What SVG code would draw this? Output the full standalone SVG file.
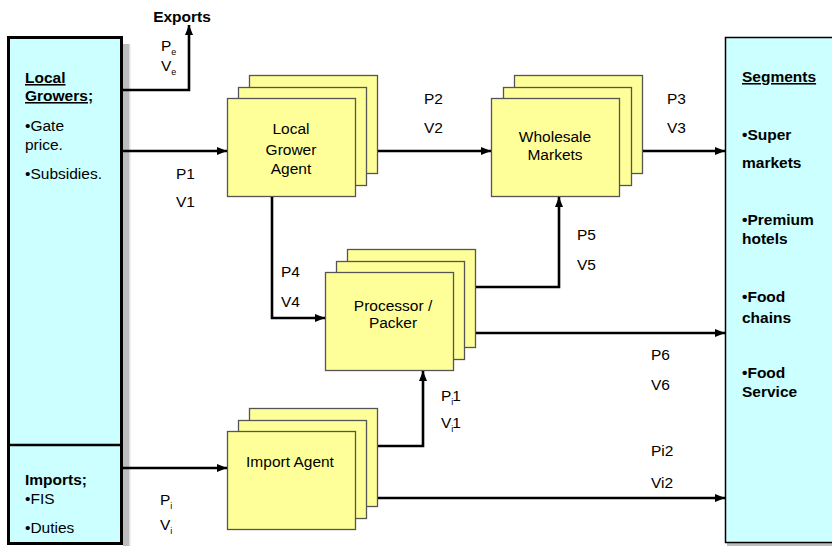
<svg xmlns="http://www.w3.org/2000/svg" width="832" height="546" viewBox="0 0 832 546">
<defs>
<style>
text{font-family:"Liberation Sans",Arial,sans-serif;font-size:15.5px;fill:#000}
.b{font-weight:bold}
.u{text-decoration:underline}
.c{text-anchor:middle}
.box{fill:#FFFF99;stroke:#555;stroke-width:1.3}
.panel{fill:#CCFFFF;stroke:#000}
.conn{fill:none;stroke:#000;stroke-width:2.6}
.sub{font-size:9px}
</style>
<marker id="ah" markerUnits="userSpaceOnUse" markerWidth="10" markerHeight="8" refX="10" refY="4" orient="auto">
<path d="M0,0 L10,4 L0,8 z" fill="#000"/>
</marker>
</defs>
<rect width="832" height="546" fill="#fff"/>

<g id="local-growers">
<rect x="123" y="44" width="6" height="502" fill="#bdbdbd"/>
<rect x="129" y="44" width="1.5" height="502" fill="#e0e0e0"/>
<rect class="panel" x="8.5" y="37.5" width="113" height="506" stroke-width="3"/>
<line x1="8" y1="445" x2="122" y2="445" stroke="#000" stroke-width="2.5"/>
<text class="b u" x="25" y="83">Local</text>
<text class="b u" x="25" y="101">Growers;</text>
<text x="25" y="131">•Gate</text>
<text x="25" y="150">price.</text>
<text x="25" y="179">•Subsidies.</text>
</g>

<g id="imports">
<text class="b" x="25" y="485">Imports;</text>
<text x="25" y="504">•FIS</text>
<text x="25" y="533">•Duties</text>
</g>

<g id="exports">
<text class="b c" x="182" y="22">Exports</text>
</g>

<g id="segments">
<rect x="727" y="543" width="110" height="3" fill="#bdbdbd"/>
<rect class="panel" x="725.5" y="37.5" width="120" height="505" stroke-width="1.5"/>
<text class="b u" x="742" y="82">Segments</text>
<text class="b" x="742" y="140">•Super</text>
<text class="b" x="742" y="168">markets</text>
<text class="b" x="742" y="225">•Premium</text>
<text class="b" x="742" y="244">hotels</text>
<text class="b" x="742" y="302">•Food</text>
<text class="b" x="742" y="323">chains</text>
<text class="b" x="742" y="378">•Food</text>
<text class="b" x="742" y="397">Service</text>
</g>

<g id="local-grower-agent">
<rect class="box" x="249.5" y="75.5" width="128" height="98"/>
<rect class="box" x="238.5" y="87.5" width="128" height="98"/>
<rect class="box" x="227.5" y="98.5" width="128" height="98"/>
<text class="c" x="291" y="134">Local</text>
<text class="c" x="291" y="155">Grower</text>
<text class="c" x="291" y="174">Agent</text>
</g>

<g id="wholesale-markets">
<rect class="box" x="514.5" y="75.5" width="128" height="98"/>
<rect class="box" x="503.5" y="87.5" width="128" height="98"/>
<rect class="box" x="491.5" y="98.5" width="128" height="98"/>
<text class="c" x="555" y="142">Wholesale</text>
<text class="c" x="555" y="160">Markets</text>
</g>

<g id="processor-packer">
<rect class="box" x="347.5" y="249.5" width="128" height="98"/>
<rect class="box" x="336.5" y="261.5" width="128" height="98"/>
<rect class="box" x="325.5" y="272.5" width="128" height="98"/>
<text class="c" x="393" y="311">Processor /</text>
<text class="c" x="393" y="328">Packer</text>
</g>

<g id="import-agent">
<rect class="box" x="249.5" y="408.5" width="128" height="98"/>
<rect class="box" x="238.5" y="420.5" width="128" height="98"/>
<rect class="box" x="227.5" y="431.5" width="128" height="98"/>
<text class="c" x="290" y="467">Import Agent</text>
</g>

<g id="connectors">
<path class="conn" d="M122,90 H189 V25" marker-end="url(#ah)"/>
<path class="conn" d="M122,151 H227" marker-end="url(#ah)"/>
<path class="conn" d="M378,151 H491" marker-end="url(#ah)"/>
<path class="conn" d="M643,151 H725" marker-end="url(#ah)"/>
<path class="conn" d="M272,197 V318 H325" marker-end="url(#ah)"/>
<path class="conn" d="M476,287 H559 V197" marker-end="url(#ah)"/>
<path class="conn" d="M476,333 H725" marker-end="url(#ah)"/>
<path class="conn" d="M378,446 H423 V371" marker-end="url(#ah)"/>
<path class="conn" d="M378,498 H725" marker-end="url(#ah)"/>
<path class="conn" d="M122,468 H227" marker-end="url(#ah)"/>

<text x="161" y="51">P<tspan class="sub" dy="4">e</tspan></text>
<text x="161" y="71">V<tspan class="sub" dy="4">e</tspan></text>
<text x="176" y="179">P1</text>
<text x="176" y="207">V1</text>
<text x="424" y="104">P2</text>
<text x="424" y="133">V2</text>
<text x="667" y="104">P3</text>
<text x="667" y="133">V3</text>
<text x="281" y="277">P4</text>
<text x="281" y="307">V4</text>
<text x="577" y="240">P5</text>
<text x="577" y="270">V5</text>
<text x="651" y="360">P6</text>
<text x="651" y="390">V6</text>
<text x="441" y="401">P<tspan class="sub" dy="4">i</tspan><tspan dy="-4" dx="-1">1</tspan></text>
<text x="441" y="428">V<tspan class="sub" dy="4">i</tspan><tspan dy="-4" dx="-1">1</tspan></text>
<text x="651" y="456">Pi2</text>
<text x="651" y="488">Vi2</text>
<text x="160" y="505">P<tspan class="sub" dy="4">i</tspan></text>
<text x="160" y="530">V<tspan class="sub" dy="4">i</tspan></text>
</g>
</svg>
